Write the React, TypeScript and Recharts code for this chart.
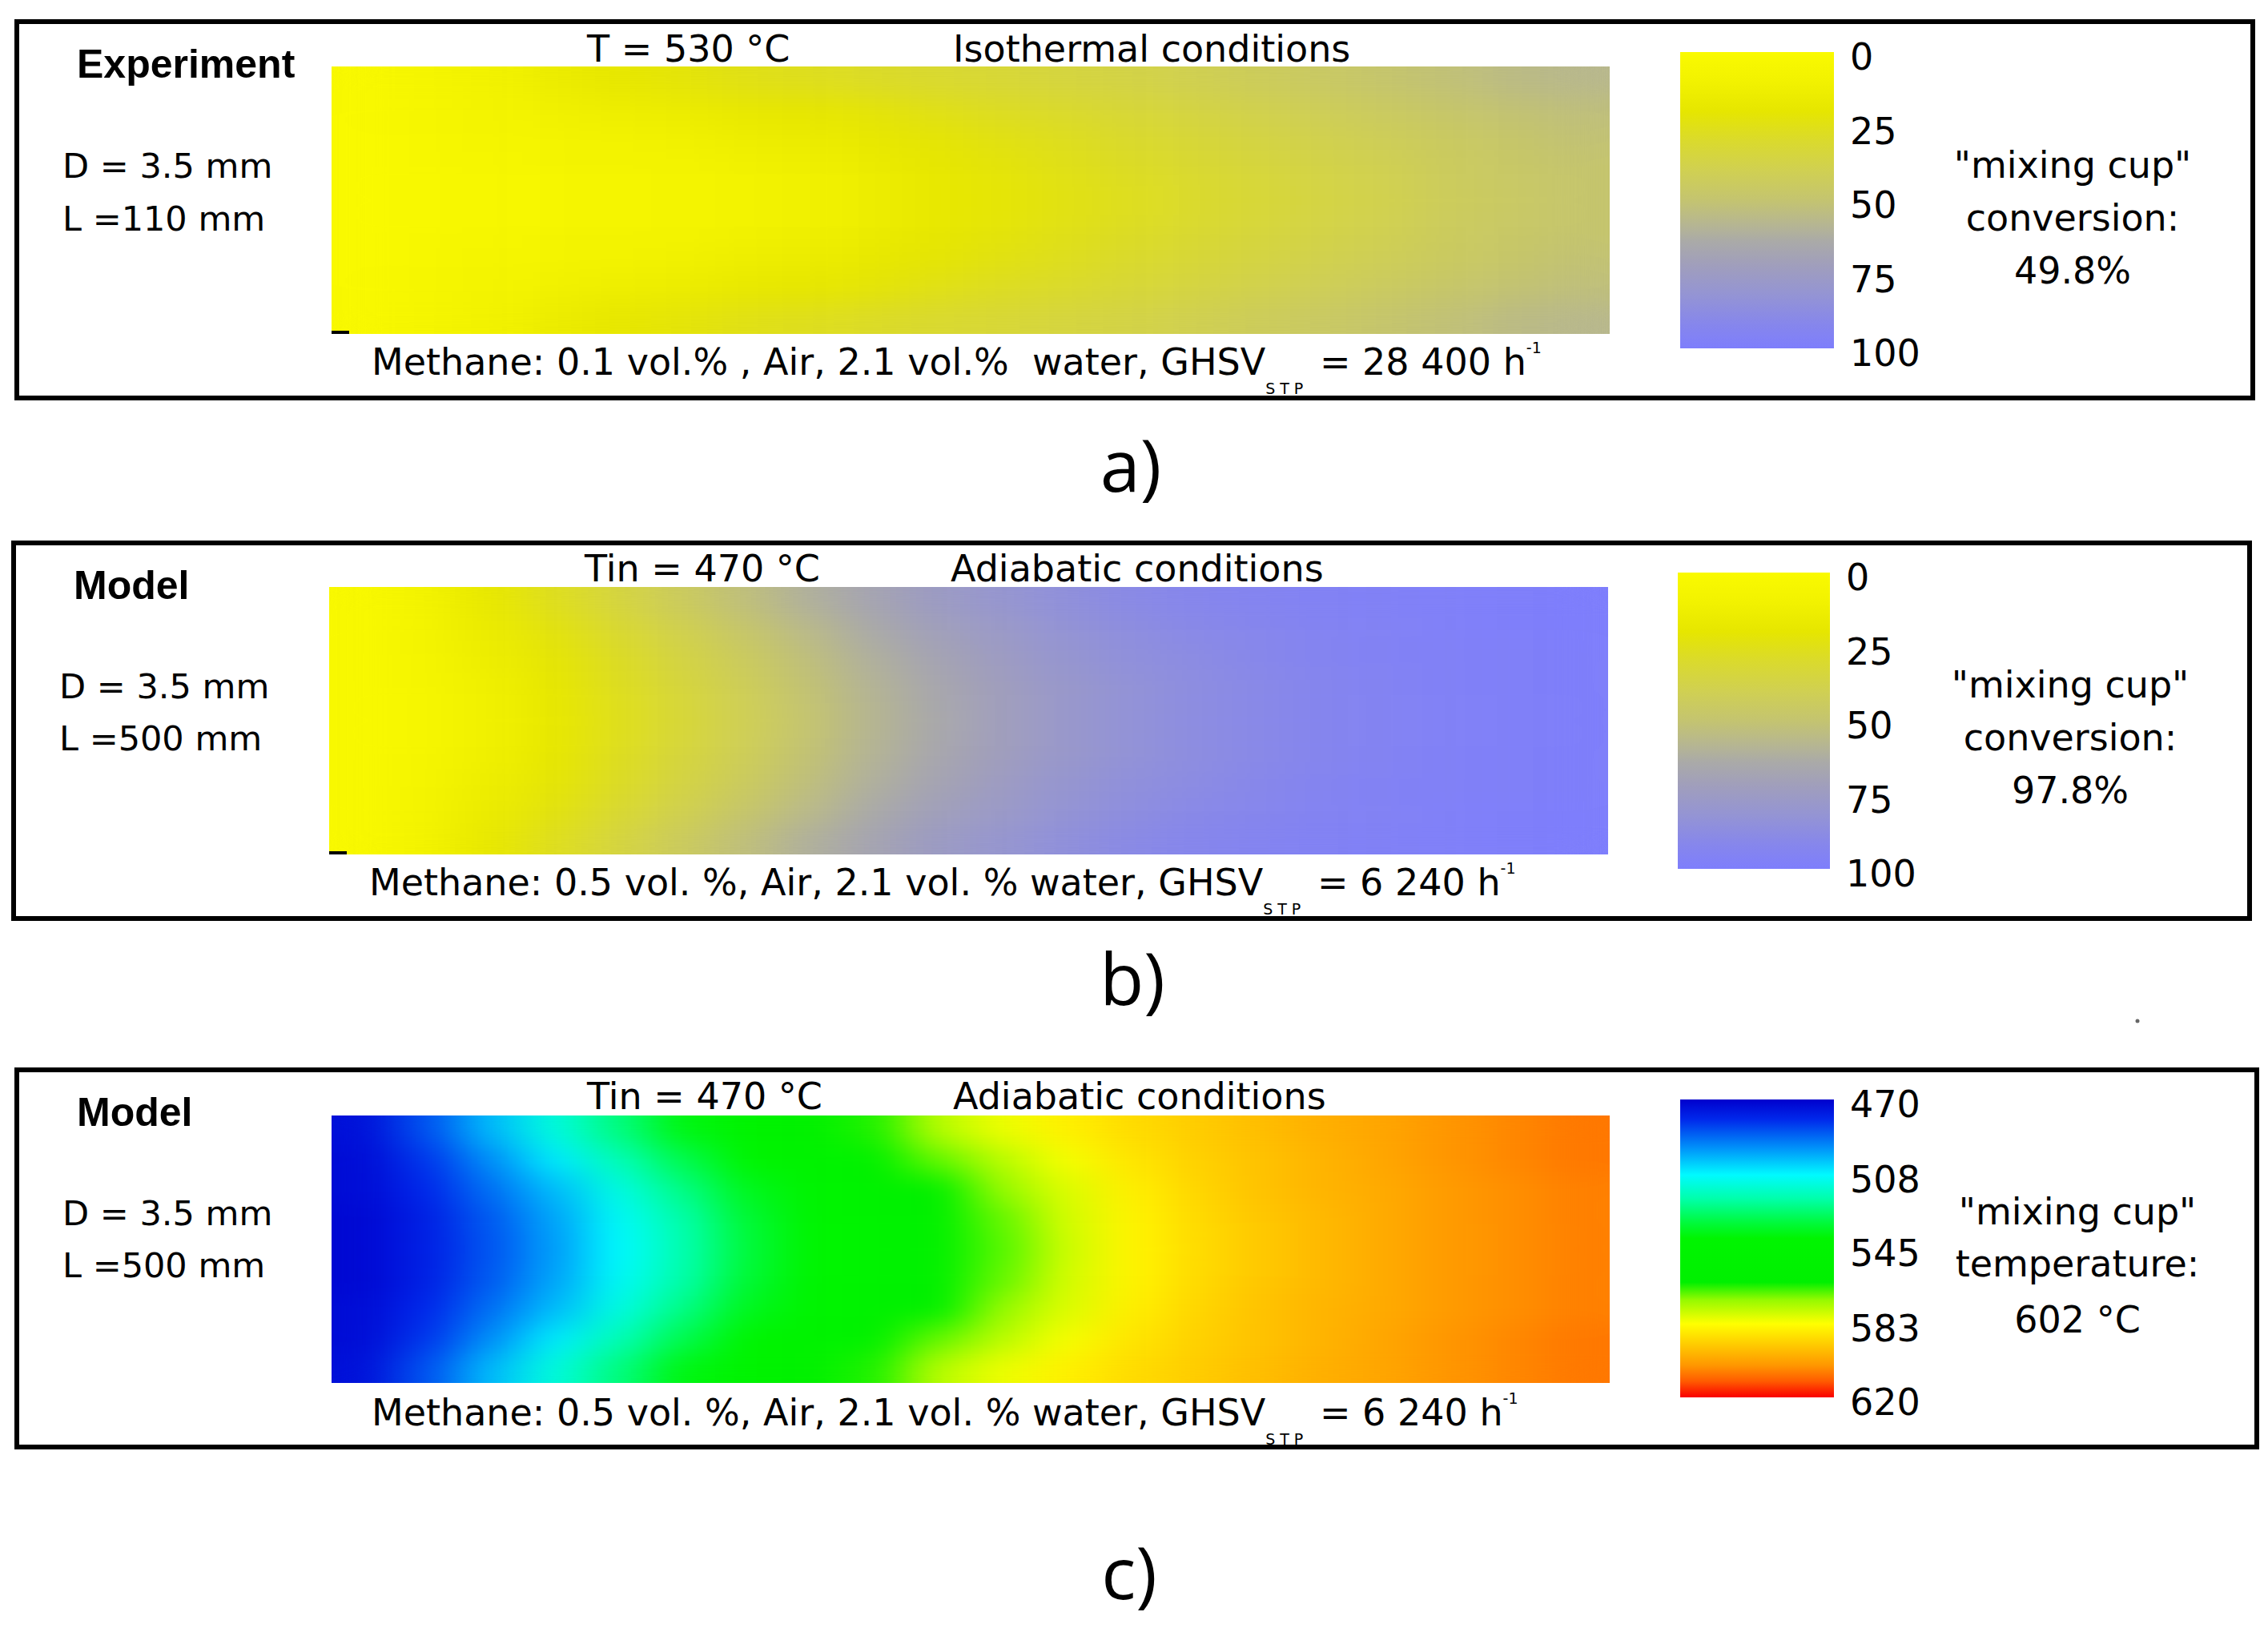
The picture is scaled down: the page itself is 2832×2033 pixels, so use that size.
import React from 'react';
import { BarChart, Bar, XAxis, YAxis, Cell } from 'recharts';

// ---------- data ----------
// axial positions (mm) of the grid columns
const axialA = [2.75, 8.25, 13.75, 19.25, 24.75, 30.25, 35.75, 41.25, 46.75, 52.25, 57.75, 63.25, 68.75, 74.25, 79.75, 85.25, 90.75, 96.25, 101.75, 107.25];
const axialBC = [12.5, 37.5, 62.5, 87.5, 112.5, 137.5, 162.5, 187.5, 212.5, 237.5, 262.5, 287.5, 312.5, 337.5, 362.5, 387.5, 412.5, 437.5, 462.5, 487.5];
// radial positions (mm) of the grid rows, top wall -> bottom wall
const radialRows = [1.556, 1.167, 0.778, 0.389, 0, -0.389, -0.778, -1.167, -1.556];
const tubeDiameter = 3.5;

// a) experiment, conversion (%)
const conversionExp: number[][] = [
  [2, 6, 10, 15, 19, 22, 25, 27, 29, 31, 33, 35, 37, 40, 43, 46, 49, 52, 55, 57],
  [2, 5, 7, 11, 13, 15, 18, 20, 22, 25, 28, 30, 33, 36, 39, 42, 45, 48, 51, 53],
  [1, 4, 6, 8, 9, 11, 13, 15, 18, 21, 24, 27, 30, 33, 36, 39, 42, 45, 48, 51],
  [1, 3, 4, 6, 7, 8, 10, 12, 15, 19, 22, 25, 28, 31, 34, 37, 40, 44, 47, 49],
  [1, 3, 4, 5, 6, 7, 9, 11, 14, 18, 21, 24, 27, 30, 33, 36, 39, 43, 46, 49],
  [1, 3, 4, 6, 7, 8, 10, 12, 15, 19, 22, 25, 28, 31, 34, 37, 40, 44, 47, 49],
  [1, 4, 6, 8, 9, 11, 13, 15, 18, 21, 24, 27, 30, 33, 36, 39, 42, 45, 48, 51],
  [2, 5, 7, 11, 13, 15, 18, 20, 22, 25, 28, 30, 33, 36, 39, 42, 45, 48, 51, 53],
  [2, 6, 10, 15, 19, 22, 25, 27, 29, 31, 33, 35, 37, 40, 43, 46, 49, 52, 55, 57],
];

// b) model, conversion (%)
const conversionModel: number[][] = [
  [3, 9, 18, 27, 35, 44, 53, 61, 68, 75, 80, 85, 89, 92, 94, 96, 97, 98, 99, 100],
  [3, 7, 15, 23, 31, 39, 48, 56, 64, 71, 76, 82, 86, 90, 92, 95, 96, 98, 99, 100],
  [2, 6, 13, 21, 28, 36, 44, 53, 61, 68, 74, 80, 85, 88, 91, 94, 96, 97, 98, 99],
  [2, 5, 11, 19, 27, 34, 42, 51, 59, 66, 72, 78, 83, 87, 90, 93, 95, 97, 98, 99],
  [2, 5, 11, 19, 26, 33, 41, 50, 58, 65, 72, 78, 83, 87, 90, 93, 95, 97, 98, 99],
  [2, 5, 11, 19, 27, 34, 42, 51, 59, 66, 72, 78, 83, 87, 90, 93, 95, 97, 98, 99],
  [2, 6, 13, 21, 28, 36, 44, 53, 61, 68, 74, 80, 85, 88, 91, 94, 96, 97, 98, 99],
  [3, 7, 15, 23, 31, 39, 48, 56, 64, 71, 76, 82, 86, 90, 92, 95, 96, 98, 99, 100],
  [3, 9, 18, 27, 35, 44, 53, 61, 68, 75, 80, 85, 89, 92, 94, 96, 97, 98, 99, 100],
];

// c) model, temperature (°C)
const temperatureModel: number[][] = [
  [474, 486, 500, 513, 525, 538, 548, 556, 564, 575, 581, 586, 590, 593, 596, 599, 601, 604, 606, 608],
  [473, 482, 494, 506, 518, 530, 541, 550, 558, 568, 575, 582, 588, 592, 595, 598, 601, 604, 606, 608],
  [473, 480, 490, 500, 512, 524, 536, 546, 554, 562, 571, 579, 586, 591, 595, 598, 600, 603, 605, 607],
  [472, 478, 487, 497, 509, 520, 533, 543, 551, 559, 568, 578, 585, 590, 594, 597, 600, 603, 605, 607],
  [472, 478, 486, 496, 508, 519, 532, 542, 550, 558, 567, 577, 585, 590, 594, 597, 600, 603, 605, 607],
  [472, 478, 487, 497, 509, 520, 533, 543, 551, 559, 568, 578, 585, 590, 594, 597, 600, 603, 605, 607],
  [473, 480, 490, 500, 512, 524, 536, 546, 554, 562, 571, 579, 586, 591, 595, 598, 600, 603, 605, 607],
  [473, 482, 494, 506, 518, 530, 541, 550, 558, 568, 575, 582, 588, 592, 595, 598, 601, 604, 606, 608],
  [474, 486, 500, 513, 525, 538, 548, 556, 564, 575, 581, 586, 590, 593, 596, 599, 601, 604, 606, 608],
];

const conversionTicks = [0, 25, 50, 75, 100];
const temperatureTicks = [470, 508, 545, 583, 620];

// ---------- colour scales (style) ----------
type Stop = [number, number, number, number];
const conversionScale: Stop[] = [
  [0, 250, 250, 0], [10, 242, 242, 0], [20, 230, 230, 0], [30, 218, 218, 45],
  [40, 208, 208, 82], [50, 196, 196, 112], [58, 182, 182, 145], [64, 170, 170, 168],
  [72, 160, 158, 188], [82, 148, 148, 212], [92, 134, 134, 236], [100, 126, 126, 252],
];
const temperatureScale: Stop[] = [
  [470, 0, 0, 205], [480, 0, 40, 235], [495, 0, 150, 250], [508, 0, 250, 255],
  [520, 0, 255, 170], [532, 0, 250, 60], [540, 0, 245, 0], [562, 0, 240, 0],
  [571, 150, 250, 0], [583, 255, 255, 0], [594, 255, 200, 0], [604, 255, 150, 0],
  [612, 255, 90, 0], [620, 250, 0, 0],
];

function colorAt(scale: Stop[], v: number): string {
  const rgb = (r: number, g: number, b: number) => `rgb(${Math.round(r)},${Math.round(g)},${Math.round(b)})`;
  if (v <= scale[0][0]) return rgb(scale[0][1], scale[0][2], scale[0][3]);
  for (let i = 1; i < scale.length; i++) {
    const a = scale[i - 1];
    const b = scale[i];
    if (v <= b[0]) {
      const t = (v - a[0]) / (b[0] - a[0]);
      return rgb(a[1] + (b[1] - a[1]) * t, a[2] + (b[2] - a[2]) * t, a[3] + (b[3] - a[3]) * t);
    }
  }
  const l = scale[scale.length - 1];
  return rgb(l[1], l[2], l[3]);
}

const FONT = "'DejaVu Sans', 'Liberation Sans', sans-serif";
const BOLD = "'Liberation Sans', Arial, sans-serif";

// ---------- heat map (stacked bar cells) ----------
function HeatMap(props: { field: number[][]; axial: number[]; scale: Stop[]; left: number; top: number; width: number; height: number }) {
  const { field, axial, scale, left, top, width, height } = props;
  const rowWidth = tubeDiameter / radialRows.length;
  const data = axial.map((z) => {
    const o: any = { z };
    radialRows.forEach((_, i) => { o['r' + i] = rowWidth; });
    return o;
  });
  const n = radialRows.length;
  return (
    <div style={{ position: 'absolute', left, top, width, height, overflow: 'hidden' }}>
      <div style={{ width, height, filter: 'url(#smoothField)' }}>
        <BarChart width={width} height={height} data={data} margin={{ top: 0, right: 0, bottom: 0, left: 0 }} barCategoryGap={0} barGap={0}>
          <XAxis dataKey="z" hide />
          <YAxis type="number" domain={[0, tubeDiameter]} hide />
          {radialRows.map((_, i) => (
            <Bar key={i} dataKey={'r' + i} stackId="cells" isAnimationActive={false}>
              {axial.map((__, j) => (
                <Cell key={j} fill={colorAt(scale, field[n - 1 - i][j])} stroke="none" />
              ))}
            </Bar>
          ))}
        </BarChart>
      </div>
    </div>
  );
}

// ---------- colour bar ----------
const CbTick = (p: any) => (
  <text x={p.x} y={p.y + 22} fontSize={46} fontFamily={FONT} fill="#000" textAnchor="start">{p.payload.value}</text>
);

function ColorBar(props: { scale: Stop[]; ticks: number[]; gradId: string; left: number; top: number; width: number; height: number }) {
  const { ticks, gradId, left, top, width, height } = props;
  const pad = 40;
  const axisW = 140;
  const lo = ticks[0];
  const hi = ticks[ticks.length - 1];
  const data = [{ name: 'bar', range: [lo, hi] }];
  return (
    <div style={{ position: 'absolute', left, top: top - pad }}>
      <BarChart width={width + axisW} height={height + 2 * pad} data={data} margin={{ top: pad, right: 0, bottom: pad, left: 0 }} barCategoryGap={0}>
        <XAxis dataKey="name" hide />
        <YAxis orientation="right" type="number" domain={[lo, hi]} reversed ticks={ticks} interval={0} width={axisW}
          axisLine={false} tickLine={false} tickMargin={14} tick={<CbTick />} />
        <Bar dataKey="range" fill={`url(#${gradId})`} isAnimationActive={false} />
      </BarChart>
    </div>
  );
}

function Gradient({ id, scale }: { id: string; scale: Stop[] }) {
  const lo = scale[0][0];
  const hi = scale[scale.length - 1][0];
  return (
    <linearGradient id={id} x1="0" y1="0" x2="0" y2="1">
      {scale.map((s, i) => (
        <stop key={i} offset={(s[0] - lo) / (hi - lo)} stopColor={`rgb(${s[1]},${s[2]},${s[3]})`} />
      ))}
    </linearGradient>
  );
}

// ---------- text helpers ----------
function Txt({ x, y, size = 46, anchor = 'start', bold = false, children }: any) {
  return (
    <text x={x} y={y} fontSize={size} fontFamily={bold ? BOLD : FONT} fontWeight={bold ? 700 : 400}
      textAnchor={anchor} fill="#000" style={{ whiteSpace: 'pre' }}>{children}</text>
  );
}

function FlowText({ x, y, main, ghsv }: { x: number; y: number; main: string; ghsv: string }) {
  return (
    <text x={x} y={y} fontSize={46} fontFamily={FONT} fill="#000" style={{ whiteSpace: 'pre' }}>
      {main}
      <tspan fontSize={19} dy={24} letterSpacing={6}>STP</tspan>
      <tspan fontSize={46} dy={-24}>{` = ${ghsv} h`}</tspan>
      <tspan fontSize={19} dy={-27}>-1</tspan>
    </text>
  );
}

export default function App() {
  return (
    <div style={{ position: 'absolute', left: 0, top: 0, width: 2832, height: 2033, background: '#fff', overflow: 'hidden' }}>
      <svg width={0} height={0} style={{ position: 'absolute' }}>
        <defs>
          <filter id="smoothField" x="0" y="0" width="1" height="1" colorInterpolationFilters="sRGB">
            <feGaussianBlur stdDeviation="30 15" />
            <feComponentTransfer>
              <feFuncA type="linear" slope={0} intercept={1} />
            </feComponentTransfer>
          </filter>
          <Gradient id="gradConv" scale={conversionScale} />
          <Gradient id="gradTemp" scale={temperatureScale} />
        </defs>
      </svg>

      <HeatMap field={conversionExp} axial={axialA} scale={conversionScale} left={414} top={83} width={1596} height={334} />
      <HeatMap field={conversionModel} axial={axialBC} scale={conversionScale} left={411} top={733} width={1597} height={334} />
      <HeatMap field={temperatureModel} axial={axialBC} scale={temperatureScale} left={414} top={1393} width={1596} height={334} />

      <ColorBar scale={conversionScale} ticks={conversionTicks} gradId="gradConv" left={2098} top={65} width={192} height={370} />
      <ColorBar scale={conversionScale} ticks={conversionTicks} gradId="gradConv" left={2095} top={715} width={190} height={370} />
      <ColorBar scale={temperatureScale} ticks={temperatureTicks} gradId="gradTemp" left={2098} top={1373} width={192} height={372} />

      <svg width={2832} height={2033} style={{ position: 'absolute', left: 0, top: 0, pointerEvents: 'none' }}>
        {/* frames */}
        <rect x={21} y={27} width={2792} height={470} fill="none" stroke="#000" strokeWidth={6} />
        <rect x={17} y={678} width={2792} height={469} fill="none" stroke="#000" strokeWidth={6} />
        <rect x={21} y={1336} width={2797} height={471} fill="none" stroke="#000" strokeWidth={6} />

        {/* small corner marks */}
        <rect x={414} y={413} width={22} height={4} fill="#000" />
        <rect x={411} y={1063} width={22} height={4} fill="#000" />
        <circle cx={2669} cy={1275} r={2.5} fill="#666" />

        {/* panel a */}
        <Txt x={96} y={97} size={50} bold>Experiment</Txt>
        <Txt x={733} y={77}>T = 530 °C</Txt>
        <Txt x={1190} y={77}>Isothermal conditions</Txt>
        <Txt x={78} y={222} size={43}>D = 3.5 mm</Txt>
        <Txt x={78} y={288} size={43}>L =110 mm</Txt>
        <FlowText x={464} y={468} main="Methane: 0.1 vol.% , Air, 2.1 vol.%  water, GHSV" ghsv="28 400" />
        <Txt x={2588} y={222} anchor="middle">"mixing cup"</Txt>
        <Txt x={2588} y={288} anchor="middle">conversion:</Txt>
        <Txt x={2588} y={354} anchor="middle">49.8%</Txt>
        <text x={1412} y={614} fontSize={90} fontFamily="'Open Sans', sans-serif" textAnchor="middle" fill="#000">a)</text>

        {/* panel b */}
        <Txt x={92} y={748} size={50} bold>Model</Txt>
        <Txt x={730} y={726}>Tin = 470 °C</Txt>
        <Txt x={1187} y={726}>Adiabatic conditions</Txt>
        <Txt x={74} y={872} size={43}>D = 3.5 mm</Txt>
        <Txt x={74} y={937} size={43}>L =500 mm</Txt>
        <FlowText x={461} y={1118} main="Methane: 0.5 vol. %, Air, 2.1 vol. % water, GHSV" ghsv="6 240" />
        <Txt x={2585} y={871} anchor="middle">"mixing cup"</Txt>
        <Txt x={2585} y={937} anchor="middle">conversion:</Txt>
        <Txt x={2585} y={1003} anchor="middle">97.8%</Txt>
        <text x={1414} y={1255} fontSize={90} fontFamily="'Open Sans', sans-serif" textAnchor="middle" fill="#000">b)</text>

        {/* panel c */}
        <Txt x={96} y={1406} size={50} bold>Model</Txt>
        <Txt x={733} y={1385}>Tin = 470 °C</Txt>
        <Txt x={1190} y={1385}>Adiabatic conditions</Txt>
        <Txt x={78} y={1530} size={43}>D = 3.5 mm</Txt>
        <Txt x={78} y={1595} size={43}>L =500 mm</Txt>
        <FlowText x={464} y={1780} main="Methane: 0.5 vol. %, Air, 2.1 vol. % water, GHSV" ghsv="6 240" />
        <Txt x={2594} y={1529} anchor="middle">"mixing cup"</Txt>
        <Txt x={2594} y={1594} anchor="middle">temperature:</Txt>
        <Txt x={2594} y={1664} anchor="middle">602 °C</Txt>
        <text x={1410} y={1997} fontSize={90} fontFamily="'Open Sans', sans-serif" textAnchor="middle" fill="#000">c)</text>
      </svg>
    </div>
  );
}
